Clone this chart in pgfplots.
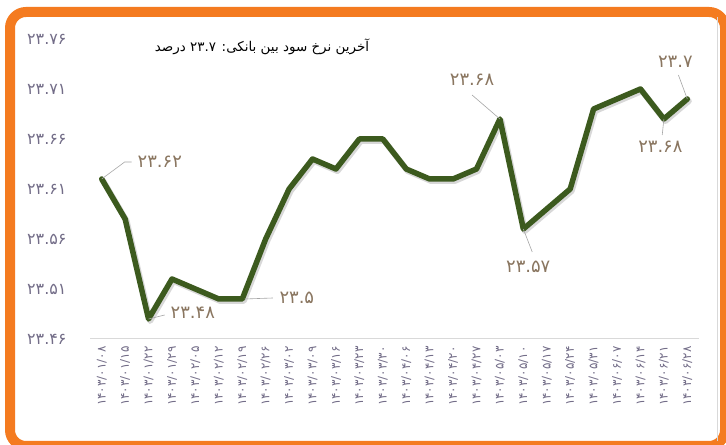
\documentclass[border=0pt]{standalone}
\usepackage{pgfplots}
\pgfplotsset{compat=1.18}
\usepackage{fontspec}
\setmainfont{DejaVu Sans}
\newfontfamily\arabicfont[Script=Arabic]{DejaVu Sans}
\TeXXeTstate=1
\definecolor{frameorange}{HTML}{F47B20}
\definecolor{linegreen}{HTML}{3C5A1E}
\definecolor{ticklab}{HTML}{736D88}
\definecolor{datalab}{HTML}{8A7660}
\begin{document}
\begin{tikzpicture}[x=1bp,y=1bp]
\useasboundingbox (0,0) rectangle (726,445);
\clip (0,0) rectangle (726,445);
\fill[white] (0,0) rectangle (726,445);
\draw[frameorange, line width=10bp, rounded corners=16bp] (10,-1) rectangle (725,433);
\draw[black!15, line width=1bp] (717,4) -- (717,428);
\node[font=\arabicfont\fontsize{13.5}{15}\selectfont, text=black] at (262,398) {\beginR آخرین نرخ سود بین بانکی: ۲۳.۷ درصد\endR};
\begin{axis}[
  at={(90bp,106bp)}, anchor=south west,
  scale only axis, width=609bp, height=300bp,
  xmin=-0.5, xmax=25.5, ymin=23.46, ymax=23.76,
  clip=false,
  axis x line*=bottom, axis y line*=left,
  x axis line style={draw=black!15, line width=1bp, -},
  y axis line style={draw=none},
  major tick length=0pt,
  xtick={0,...,25},
  xticklabels={۱۴۰۳/۰۱/۰۸,۱۴۰۳/۰۱/۱۵,۱۴۰۳/۰۱/۲۲,۱۴۰۳/۰۱/۲۹,۱۴۰۳/۰۲/۰۵,۱۴۰۳/۰۲/۱۲,۱۴۰۳/۰۲/۱۹,۱۴۰۳/۰۲/۲۶,۱۴۰۳/۰۳/۰۲,۱۴۰۳/۰۳/۰۹,۱۴۰۳/۰۳/۱۶,۱۴۰۳/۰۳/۲۳,۱۴۰۳/۰۳/۳۰,۱۴۰۳/۰۴/۰۶,۱۴۰۳/۰۴/۱۳,۱۴۰۳/۰۴/۲۰,۱۴۰۳/۰۴/۲۷,۱۴۰۳/۰۵/۰۳,۱۴۰۳/۰۵/۱۰,۱۴۰۳/۰۵/۱۷,۱۴۰۳/۰۵/۲۴,۱۴۰۳/۰۵/۳۱,۱۴۰۳/۰۶/۰۷,۱۴۰۳/۰۶/۱۴,۱۴۰۳/۰۶/۲۱,۱۴۰۳/۰۶/۲۸},
  xticklabel style={rotate=90, anchor=east, font=\arabicfont\fontsize{12}{13}\selectfont, text=ticklab, xshift=-4bp},
  ytick={23.46,23.51,23.56,23.61,23.66,23.71,23.76},
  yticklabels={۲۳.۴۶,۲۳.۵۱,۲۳.۵۶,۲۳.۶۱,۲۳.۶۶,۲۳.۷۱,۲۳.۷۶},
  yticklabel style={anchor=east, font=\arabicfont\fontsize{16}{17}\selectfont, text=ticklab, xshift=-20bp},
]
\addplot[black!25, opacity=0.6, line width=6bp, line join=round, line cap=round, shift={(1.5bp,-2bp)}] coordinates {
(0,23.62)(1,23.58)(2,23.48)(3,23.52)(4,23.51)(5,23.50)(6,23.50)(7,23.56)(8,23.61)(9,23.64)
(10,23.63)(11,23.66)(12,23.66)(13,23.63)(14,23.62)(15,23.62)(16,23.63)(17,23.68)(18,23.57)(19,23.59)
(20,23.61)(21,23.69)(22,23.70)(23,23.71)(24,23.68)(25,23.70)};
\addplot[linegreen, line width=5.5bp, line join=round, line cap=round] coordinates {
(0,23.62)(1,23.58)(2,23.48)(3,23.52)(4,23.51)(5,23.50)(6,23.50)(7,23.56)(8,23.61)(9,23.64)
(10,23.63)(11,23.66)(12,23.66)(13,23.63)(14,23.62)(15,23.62)(16,23.63)(17,23.68)(18,23.57)(19,23.59)
(20,23.61)(21,23.69)(22,23.70)(23,23.71)(24,23.68)(25,23.70)};
\draw[black!35, line width=0.6bp] (axis cs:0,23.62) -- (axis cs:0.98,23.637) -- (axis cs:1.28,23.637);
\draw[black!35, line width=0.6bp] (axis cs:2,23.48) -- (axis cs:2.69,23.484);
\draw[black!35, line width=0.6bp] (axis cs:6.1,23.50) -- (axis cs:7.31,23.501);
\draw[black!35, line width=0.6bp] (axis cs:17,23.68) -- (axis cs:15.81,23.704);
\draw[black!35, line width=0.6bp] (axis cs:18,23.57) -- (axis cs:18.38,23.547);
\draw[black!35, line width=0.6bp] (axis cs:25,23.70) -- (axis cs:24.62,23.724);
\draw[black!35, line width=0.6bp] (axis cs:24,23.68) -- (axis cs:23.93,23.664);
\tikzset{dl/.style={font=\arabicfont\fontsize{18}{19}\selectfont, text=datalab}}
\node[dl] at (axis cs:2.48,23.637) {۲۳.۶۲};
\node[dl] at (axis cs:3.89,23.486) {۲۳.۴۸};
\node[dl] at (axis cs:8.33,23.501) {۲۳.۵};
\node[dl] at (axis cs:15.81,23.719) {۲۳.۶۸};
\node[dl] at (axis cs:18.21,23.532) {۲۳.۵۷};
\node[dl] at (axis cs:24.49,23.737) {۲۳.۷};
\node[dl] at (axis cs:23.85,23.652) {۲۳.۶۸};
\end{axis}
\end{tikzpicture}
\end{document}
